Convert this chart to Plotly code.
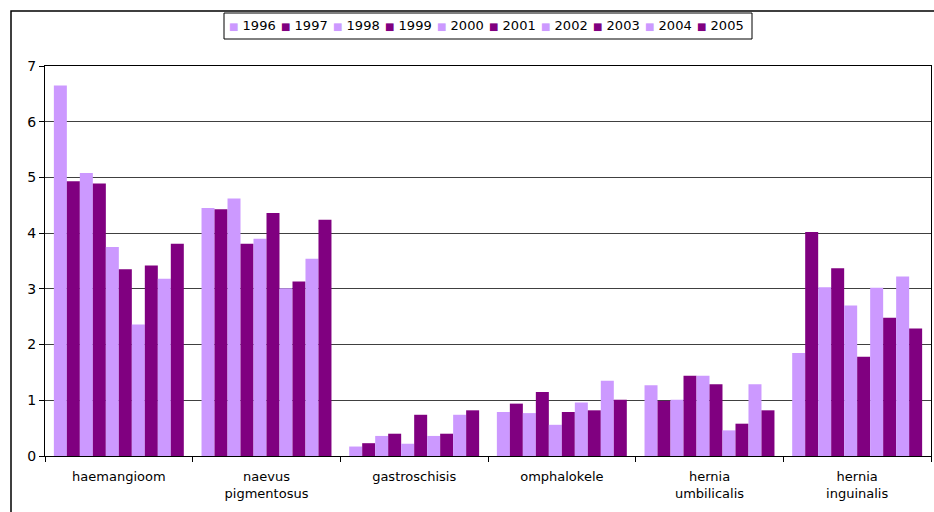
import plotly.graph_objects as go

categories = ["haemangioom", "naevus<br>pigmentosus", "gastroschisis",
              "omphalokele", "hernia<br>umbilicalis", "hernia<br>inguinalis"]
years = ["1996", "1997", "1998", "1999", "2000",
         "2001", "2002", "2003", "2004", "2005"]

# one list per year, values per category (same order as categories)
v1996 = [6.65, 4.45, 0.17, 0.79, 1.27, 1.85]
v1997 = [4.93, 4.43, 0.23, 0.94, 0.99, 4.02]
v1998 = [5.08, 4.62, 0.36, 0.77, 1.01, 3.03]
v1999 = [4.89, 3.81, 0.40, 1.15, 1.44, 3.37]
v2000 = [3.75, 3.90, 0.22, 0.56, 1.44, 2.70]
v2001 = [3.35, 4.36, 0.74, 0.79, 1.29, 1.78]
v2002 = [2.36, 3.01, 0.36, 0.96, 0.46, 3.02]
v2003 = [3.42, 3.13, 0.40, 0.82, 0.58, 2.48]
v2004 = [3.18, 3.54, 0.74, 1.35, 1.29, 3.22]
v2005 = [3.81, 4.24, 0.82, 1.01, 0.82, 2.29]
series = [v1996, v1997, v1998, v1999, v2000, v2001, v2002, v2003, v2004, v2005]

light = "#CC99FF"
dark = "#800080"
colors = [light if i % 2 == 0 else dark for i in range(len(years))]

font = "DejaVu Sans, Verdana, sans-serif"

# plot-area geometry in pixels, used to place the legend and frame
L, R, T, B = 45, 931, 66, 456
W, H = R - L, B - T


def px_x(px):
    return (px - L) / W


def px_y(py):
    return (B - py) / H


fig = go.Figure()
for year, vals, col in zip(years, series, colors):
    fig.add_trace(go.Bar(
        name=year, x=categories, y=vals,
        marker=dict(color=col, line=dict(width=0)),
        showlegend=False,
    ))

# boxed legend row: coloured square followed by the year
leg_left, leg_right, leg_top, leg_bottom = 224, 752, 13, 39
fig.add_shape(
    type="rect", xref="paper", yref="paper",
    x0=px_x(leg_left), x1=px_x(leg_right),
    y0=px_y(leg_bottom), y1=px_y(leg_top),
    line=dict(color="#000", width=1), fillcolor="white",
)
pitch = (leg_right - leg_left - 8) / len(years)
for i, (year, col) in enumerate(zip(years, colors)):
    fig.add_annotation(
        xref="paper", yref="paper",
        x=px_x(leg_left + 3 + i * pitch), y=px_y((leg_top + leg_bottom) / 2),
        xanchor="left", yanchor="middle", showarrow=False,
        text=f"<span style='color:{col};font-size:10px'>■</span> {year}",
        font=dict(family=font, size=13, color="#000"),
    )

# outer chart frame
fig.add_shape(
    type="rect", xref="paper", yref="paper",
    x0=px_x(11), x1=1.05, y0=-0.3, y1=px_y(11),
    line=dict(color="#000", width=1.5), fillcolor="rgba(0,0,0,0)",
    layer="below",
)

fig.update_layout(
    width=934, height=512,
    margin=dict(l=L, r=934 - R, t=T, b=512 - B),
    paper_bgcolor="white", plot_bgcolor="white",
    barmode="group", bargap=0.12, bargroupgap=0,
    font=dict(family=font, size=12, color="#000"),
)
fig.update_xaxes(
    type="category", tickson="boundaries", ticks="outside", ticklen=5,
    tickcolor="#000", showline=True, linecolor="#000", linewidth=1,
    mirror=True, showgrid=False,
    tickfont=dict(family=font, size=13, color="#000"),
    ticklabelstandoff=8,
)
fig.update_yaxes(
    range=[0, 7], dtick=1, ticks="outside", ticklen=5, tickcolor="#000",
    showline=True, linecolor="#000", linewidth=1, mirror=True,
    showgrid=True, gridcolor="#404040", gridwidth=1, zeroline=False,
    tickfont=dict(family=font, size=14, color="#000"),
)

fig.write_html("out.html")
